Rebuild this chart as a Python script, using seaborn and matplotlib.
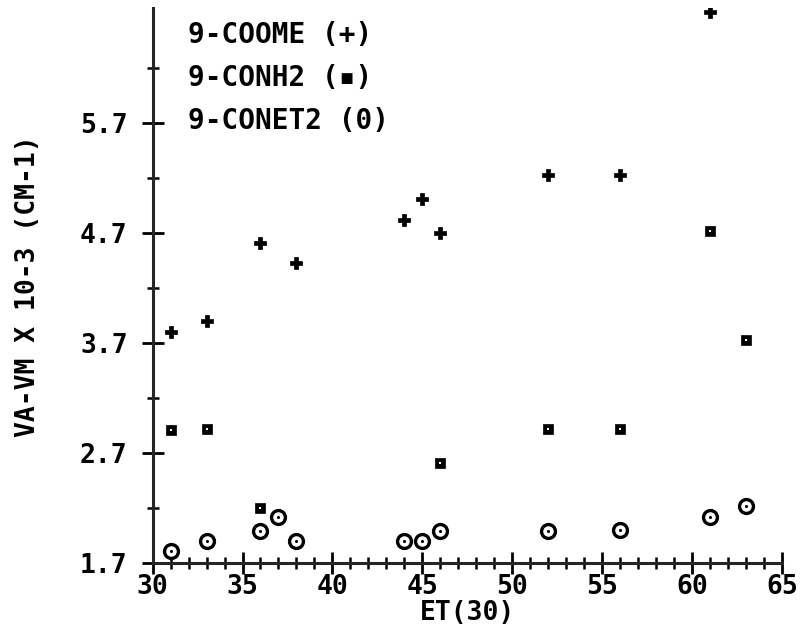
import matplotlib
matplotlib.use("Agg")
import matplotlib.pyplot as plt
from matplotlib.ticker import FixedLocator, MultipleLocator
import pandas as pd
import seaborn as sns

# values
et30_coome = [31, 33, 36, 38, 44, 45, 46, 52, 56, 61]
va_coome = [3.80, 3.90, 4.61, 4.43, 4.82, 5.01, 4.70, 5.23, 5.23, 6.71]

et30_conh2 = [31, 33, 36, 46, 52, 56, 61, 63]
va_conh2 = [2.91, 2.92, 2.20, 2.61, 2.92, 2.92, 4.72, 3.73]

et30_conet2 = [31, 33, 36, 37, 38, 44, 45, 46, 52, 56, 61, 63]
va_conet2 = [1.81, 1.90, 1.99, 2.12, 1.90, 1.90, 1.90, 1.99, 1.99, 2.00, 2.12, 2.22]

y_major = [1.7, 2.7, 3.7, 4.7, 5.7]
y_minor = [2.2, 3.2, 4.2, 5.2, 6.2]
legend_lines = ["9-COOME (+)", "9-CONH2 (\u25aa)", "9-CONET2 (0)"]

coome = pd.DataFrame({"et": et30_coome, "va": va_coome})
conh2 = pd.DataFrame({"et": et30_conh2, "va": va_conh2})
conet2 = pd.DataFrame({"et": et30_conet2, "va": va_conet2})

sns.set_style("ticks")
plt.rcParams["font.family"] = ["DejaVu Sans Mono", "DejaVu Sans"]
plt.rcParams["text.color"] = "black"
plt.rcParams["axes.labelcolor"] = "black"

fig = plt.figure(figsize=(8.03, 6.35), dpi=100)
ax = fig.add_axes([0.19, 0.113, 0.784, 0.874])

# crosses
sns.scatterplot(data=coome, x="et", y="va", marker="P", s=85, color="black",
                edgecolor="black", linewidth=0.5, ax=ax, zorder=3)
# small squares with a white centre
sns.scatterplot(data=conh2, x="et", y="va", marker="s", s=62, color="black",
                edgecolor="black", linewidth=0.5, ax=ax, zorder=3)
sns.scatterplot(data=conh2, x="et", y="va", marker="s", s=4, color="white",
                linewidth=0, ax=ax, zorder=4)
# rings with a dot
sns.scatterplot(data=conet2, x="et", y="va", marker="o", s=100, facecolor="white",
                edgecolor="black", linewidth=2.4, ax=ax, zorder=3)
sns.scatterplot(data=conet2, x="et", y="va", marker="o", s=5, color="black",
                linewidth=0, ax=ax, zorder=4)

ax.set_xlim(30, 65)
ax.set_ylim(1.7, 6.74)
sns.despine(ax=ax)
ax.spines["left"].set_linewidth(2.2)
ax.spines["bottom"].set_linewidth(2.2)

ax.xaxis.set_major_locator(MultipleLocator(5))
ax.xaxis.set_minor_locator(MultipleLocator(1))
ax.yaxis.set_major_locator(FixedLocator(y_major))
ax.yaxis.set_minor_locator(FixedLocator(y_minor))
ax.set_yticklabels([f"{v:.1f}" for v in y_major])

ax.tick_params(which="major", direction="inout", length=16, width=2,
               labelsize=19, color="black", labelcolor="black")
ax.tick_params(which="minor", direction="inout", length=9, width=1.8,
               color="black")
ax.tick_params(axis="x", which="major", pad=0)
ax.tick_params(axis="y", which="major", pad=10)
for lbl in ax.get_xticklabels() + ax.get_yticklabels():
    lbl.set_fontweight("bold")

ax.set_xlabel("ET(30)", fontsize=19, fontweight="bold", labelpad=0)
ax.set_ylabel("VA-VM X 10-3 (CM-1)", fontsize=19, fontweight="bold", labelpad=28)

for i, line in enumerate(legend_lines):
    ax.text(0.056, 0.951 - i * 0.077, line, transform=ax.transAxes,
            fontsize=20, fontweight="bold", va="center", ha="left")

fig.savefig("out.png", dpi=100, facecolor="white")
